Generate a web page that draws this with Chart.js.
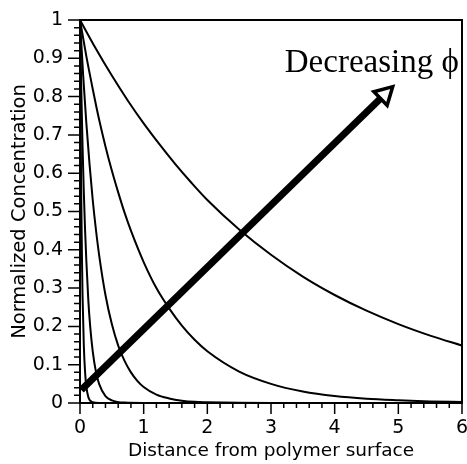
<!DOCTYPE html>
<html>
<head>
<meta charset="utf-8">
<script src="https://cdn.jsdelivr.net/npm/chart.js@4.4.1/dist/chart.umd.min.js"></script>
<style>
  html, body { margin: 0; padding: 0; background: #fff; }
  #wrap { width: 467px; height: 464px; }
</style>
</head>
<body>
<div id="wrap"><canvas id="chartCanvas" width="467" height="464"></canvas></div>
<script>
const xTickLabels = ["0", "1", "2", "3", "4", "5", "6"];
const yTickLabels = ["0", "0.1", "0.2", "0.3", "0.4", "0.5", "0.6", "0.7", "0.8", "0.9", "1"];

// profiles, widest first
const curve1X = [0, 0.25, 0.5, 0.75, 1, 1.25, 1.5, 1.75, 2, 2.5, 3, 3.5, 4, 4.5, 5, 5.5, 6];
const curve1Y = [1, 0.925, 0.855, 0.79, 0.73, 0.675, 0.623, 0.575, 0.53, 0.453, 0.387, 0.33, 0.282, 0.241, 0.206, 0.176, 0.15];

const curve2X = [0, 0.1, 0.2, 0.3, 0.4, 0.5, 0.6, 0.7, 0.8, 1, 1.2, 1.4, 1.6, 1.8, 2, 2.5, 3, 3.5, 4, 4.5, 5, 5.5, 6];
const curve2Y = [1, 0.905, 0.82, 0.74, 0.67, 0.607, 0.55, 0.497, 0.45, 0.368, 0.30, 0.247, 0.202, 0.165, 0.135, 0.082, 0.05, 0.03, 0.018, 0.011, 0.007, 0.004, 0.0025];

const curve3X = [0, 0.05, 0.1, 0.15, 0.2, 0.25, 0.3, 0.4, 0.5, 0.6, 0.7, 0.8, 0.9, 1, 1.2, 1.4, 1.6, 1.8, 2, 2.5, 3, 6];
const curve3Y = [1, 0.854, 0.73, 0.623, 0.53, 0.453, 0.387, 0.282, 0.206, 0.15, 0.11, 0.08, 0.058, 0.042, 0.022, 0.012, 0.006, 0.003, 0.002, 0.0004, 0, 0];

const curve4X = [0, 0.02, 0.04, 0.06, 0.08, 0.1, 0.13, 0.16, 0.2, 0.25, 0.3, 0.4, 0.5, 0.7, 1, 6];
const curve4Y = [1, 0.82, 0.67, 0.55, 0.45, 0.37, 0.27, 0.2, 0.135, 0.082, 0.05, 0.018, 0.007, 0.001, 0, 0];

const curve5X = [0, 0.005, 0.01, 0.02, 0.03, 0.04, 0.06, 0.08, 0.1, 0.13, 0.16, 0.2, 0.3, 6];
const curve5Y = [1, 0.85, 0.73, 0.53, 0.39, 0.28, 0.15, 0.08, 0.042, 0.016, 0.006, 0.002, 0, 0];

// arrow shaft (start -> base of head)
const arrowX = [0.02, 4.72];
const arrowY = [0.034, 0.795];
const arrowLabel = "Decreasing \u03D5";

const curves = [
    [curve1X, curve1Y],
    [curve2X, curve2Y],
    [curve3X, curve3Y],
    [curve4X, curve4Y],
    [curve5X, curve5Y]
];

function toPoints(xs, ys) {
    return xs.map((x, i) => ({ x, y: ys[i] }));
}

const tickFont = { family: "DejaVu Sans", size: 19 };

const extras = {
    id: "extras",
    afterDraw(chart) {
        const { ctx, chartArea: a, scales: { x, y } } = chart;
        ctx.save();
        ctx.strokeStyle = "#000";
        ctx.fillStyle = "#000";

        // top + right frame
        ctx.lineWidth = 2;
        ctx.beginPath();
        ctx.moveTo(a.left, a.top);
        ctx.lineTo(a.right, a.top);
        ctx.lineTo(a.right, a.bottom);
        ctx.stroke();

        // major + minor ticks, pointing out
        ctx.lineWidth = 1.5;
        ctx.beginPath();
        for (let i = 0; i <= 30; i++) {
            const px = x.getPixelForValue(i * 0.2);
            const len = i % 5 === 0 ? 11 : 5;
            ctx.moveTo(px, a.bottom);
            ctx.lineTo(px, a.bottom + len);
        }
        for (let i = 0; i <= 50; i++) {
            const py = y.getPixelForValue(i * 0.02);
            const len = i % 5 === 0 ? 12 : 6;
            ctx.moveTo(a.left, py);
            ctx.lineTo(a.left - len, py);
        }
        ctx.stroke();

        // open arrow head past the end of the shaft
        const x0 = x.getPixelForValue(arrowX[0]), y0 = y.getPixelForValue(arrowY[0]);
        const x1 = x.getPixelForValue(arrowX[1]), y1 = y.getPixelForValue(arrowY[1]);
        const d = Math.hypot(x1 - x0, y1 - y0);
        const ux = (x1 - x0) / d, uy = (y1 - y0) / d;
        const headLen = 17, headHalf = 9.5;
        ctx.lineWidth = 3.5;
        ctx.lineJoin = "miter";
        ctx.beginPath();
        ctx.moveTo(x1 + ux * headLen, y1 + uy * headLen);
        ctx.lineTo(x1 - uy * headHalf, y1 + ux * headHalf);
        ctx.lineTo(x1 + uy * headHalf, y1 - ux * headHalf);
        ctx.closePath();
        ctx.fillStyle = "#fff";
        ctx.fill();
        ctx.stroke();

        // label
        ctx.fillStyle = "#000";
        ctx.font = '33px "Liberation Serif"';
        ctx.textAlign = "right";
        ctx.textBaseline = "alphabetic";
        ctx.fillText(arrowLabel, x.getPixelForValue(5.95), y.getPixelForValue(0.864));
        ctx.restore();
    }
};

const datasets = curves.map(([xs, ys]) => ({
    data: toPoints(xs, ys),
    borderColor: "#000",
    borderWidth: 2,
    pointRadius: 0,
    fill: false,
    cubicInterpolationMode: "monotone"
}));

datasets.push({
    data: toPoints(arrowX, arrowY),
    borderColor: "#000",
    borderWidth: 7,
    borderCapStyle: "butt",
    pointRadius: 0,
    fill: false
});

new Chart(document.getElementById("chartCanvas"), {
    type: "line",
    data: { datasets },
    options: {
        responsive: false,
        animation: false,
        layout: { padding: { top: 20, right: 5, left: 0, bottom: 0 } },
        plugins: { legend: { display: false }, tooltip: { enabled: false } },
        scales: {
            x: {
                type: "linear",
                min: 0,
                max: 6,
                grid: { display: false, drawTicks: false },
                border: { display: true, color: "#000", width: 2 },
                ticks: {
                    stepSize: 1,
                    color: "#000",
                    font: tickFont,
                    padding: 14,
                    maxRotation: 0,
                    callback: (v, i) => xTickLabels[i]
                },
                title: {
                    display: true,
                    text: "Distance from polymer surface",
                    color: "#000",
                    font: { family: "DejaVu Sans", size: 18.5 },
                    padding: { top: 0, bottom: 2 }
                },
                afterFit: s => { s.height = 61; s.paddingLeft = 0; s.paddingRight = 0; }
            },
            y: {
                type: "linear",
                min: 0,
                max: 1,
                grid: { display: false, drawTicks: false },
                border: { display: true, color: "#000", width: 2 },
                ticks: {
                    stepSize: 0.1,
                    color: "#000",
                    font: tickFont,
                    padding: 17,
                    callback: (v, i) => yTickLabels[i]
                },
                title: {
                    display: true,
                    text: "Normalized Concentration",
                    color: "#000",
                    font: { family: "DejaVu Sans", size: 19.5 },
                    padding: { top: 8, bottom: 0 }
                },
                afterFit: s => { s.width = 80; s.paddingTop = 0; s.paddingBottom = 0; }
            }
        }
    },
    plugins: [extras]
});
</script>
</body>
</html>
